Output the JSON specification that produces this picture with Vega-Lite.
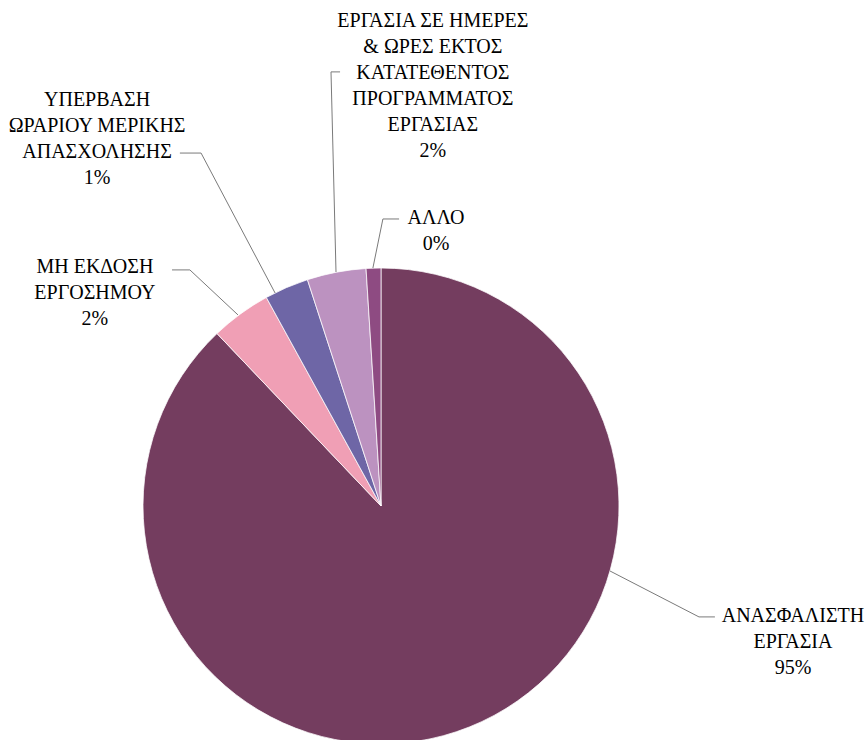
{
  "$schema": "https://vega.github.io/schema/vega-lite/v6.json",
  "width": 866,
  "height": 740,
  "padding": 0,
  "autosize": {"type": "none"},
  "background": "white",
  "config": {"view": {"stroke": null}},
  "datasets": {
    "slices": [
      {"rank": 1, "category": "ΑΝΑΣΦΑΛΙΣΤΗ ΕΡΓΑΣΙΑ", "value": 87.9},
      {"rank": 2, "category": "ΜΗ ΕΚΔΟΣΗ ΕΡΓΟΣΗΜΟΥ", "value": 4.1},
      {"rank": 3, "category": "ΥΠΕΡΒΑΣΗ ΩΡΑΡΙΟΥ ΜΕΡΙΚΗΣ ΑΠΑΣΧΟΛΗΣΗΣ", "value": 3.0},
      {"rank": 4, "category": "ΕΡΓΑΣΙΑ ΣΕ ΗΜΕΡΕΣ & ΩΡΕΣ ΕΚΤΟΣ ΚΑΤΑΤΕΘΕΝΤΟΣ ΠΡΟΓΡΑΜΜΑΤΟΣ ΕΡΓΑΣΙΑΣ", "value": 4.0},
      {"rank": 5, "category": "ΑΛΛΟ", "value": 1.0}
    ],
    "labels": [
      {"category": "ΑΝΑΣΦΑΛΙΣΤΗ ΕΡΓΑΣΙΑ", "text": "ΑΝΑΣΦΑΛΙΣΤΗ\nΕΡΓΑΣΙΑ\n95%", "lx": 173.1, "ly": -46.2},
      {"category": "ΜΗ ΕΚΔΟΣΗ ΕΡΓΟΣΗΜΟΥ", "text": "ΜΗ ΕΚΔΟΣΗ\nΕΡΓΟΣΗΜΟΥ\n2%", "lx": -120.2, "ly": 100.4},
      {"category": "ΥΠΕΡΒΑΣΗ ΩΡΑΡΙΟΥ ΜΕΡΙΚΗΣ ΑΠΑΣΧΟΛΗΣΗΣ", "text": "ΥΠΕΡΒΑΣΗ\nΩΡΑΡΙΟΥ ΜΕΡΙΚΗΣ\nΑΠΑΣΧΟΛΗΣΗΣ\n1%", "lx": -119.3, "ly": 170.6},
      {"category": "ΕΡΓΑΣΙΑ ΣΕ ΗΜΕΡΕΣ & ΩΡΕΣ ΕΚΤΟΣ ΚΑΤΑΤΕΘΕΝΤΟΣ ΠΡΟΓΡΑΜΜΑΤΟΣ ΕΡΓΑΣΙΑΣ", "text": "ΕΡΓΑΣΙΑ ΣΕ ΗΜΕΡΕΣ\n& ΩΡΕΣ ΕΚΤΟΣ\nΚΑΤΑΤΕΘΕΝΤΟΣ\nΠΡΟΓΡΑΜΜΑΤΟΣ\nΕΡΓΑΣΙΑΣ\n2%", "lx": 21.8, "ly": 203.8},
      {"category": "ΑΛΛΟ", "text": "ΑΛΛΟ\n0%", "lx": 23.1, "ly": 121.0}
    ],
    "leaders": [
      {"category": "ΑΝΑΣΦΑΛΙΣΤΗ ΕΡΓΑΣΙΑ", "seq": 1, "lx": 96.2, "ly": -27.3},
      {"category": "ΑΝΑΣΦΑΛΙΣΤΗ ΕΡΓΑΣΙΑ", "seq": 2, "lx": 133.6, "ly": -46.6},
      {"category": "ΑΝΑΣΦΑΛΙΣΤΗ ΕΡΓΑΣΙΑ", "seq": 3, "lx": 140.3, "ly": -46.6},
      {"category": "ΜΗ ΕΚΔΟΣΗ ΕΡΓΟΣΗΜΟΥ", "seq": 1, "lx": -60.1, "ly": 80.3},
      {"category": "ΜΗ ΕΚΔΟΣΗ ΕΡΓΟΣΗΜΟΥ", "seq": 2, "lx": -80.3, "ly": 99.2},
      {"category": "ΜΗ ΕΚΔΟΣΗ ΕΡΓΟΣΗΜΟΥ", "seq": 3, "lx": -87.8, "ly": 99.2},
      {"category": "ΥΠΕΡΒΑΣΗ ΩΡΑΡΙΟΥ ΜΕΡΙΚΗΣ ΑΠΑΣΧΟΛΗΣΗΣ", "seq": 1, "lx": -44.5, "ly": 89.5},
      {"category": "ΥΠΕΡΒΑΣΗ ΩΡΑΡΙΟΥ ΜΕΡΙΚΗΣ ΑΠΑΣΧΟΛΗΣΗΣ", "seq": 2, "lx": -75.6, "ly": 148.3},
      {"category": "ΥΠΕΡΒΑΣΗ ΩΡΑΡΙΟΥ ΜΕΡΙΚΗΣ ΑΠΑΣΧΟΛΗΣΗΣ", "seq": 3, "lx": -84.5, "ly": 148.3},
      {"category": "ΕΡΓΑΣΙΑ ΣΕ ΗΜΕΡΕΣ & ΩΡΕΣ ΕΚΤΟΣ ΚΑΤΑΤΕΘΕΝΤΟΣ ΠΡΟΓΡΑΜΜΑΤΟΣ ΕΡΓΑΣΙΑΣ", "seq": 1, "lx": -18.9, "ly": 98.3},
      {"category": "ΕΡΓΑΣΙΑ ΣΕ ΗΜΕΡΕΣ & ΩΡΕΣ ΕΚΤΟΣ ΚΑΤΑΤΕΘΕΝΤΟΣ ΠΡΟΓΡΑΜΜΑΤΟΣ ΕΡΓΑΣΙΑΣ", "seq": 2, "lx": -21.0, "ly": 182.4},
      {"category": "ΕΡΓΑΣΙΑ ΣΕ ΗΜΕΡΕΣ & ΩΡΕΣ ΕΚΤΟΣ ΚΑΤΑΤΕΘΕΝΤΟΣ ΠΡΟΓΡΑΜΜΑΤΟΣ ΕΡΓΑΣΙΑΣ", "seq": 3, "lx": -17.2, "ly": 182.4},
      {"category": "ΑΛΛΟ", "seq": 1, "lx": -3.4, "ly": 100.0},
      {"category": "ΑΛΛΟ", "seq": 2, "lx": 0.8, "ly": 120.6},
      {"category": "ΑΛΛΟ", "seq": 3, "lx": 7.6, "ly": 120.6}
    ]
  },
  "layer": [
    {
      "data": {"name": "slices"},
      "mark": {"type": "arc", "outerRadius": 238, "stroke": "#ffffff", "strokeWidth": 0.75},
      "encoding": {
        "x": {"datum": 0, "type": "quantitative", "scale": {"domain": [-160.08, 203.78], "nice": false, "zero": false}, "axis": null},
        "y": {"datum": 0, "type": "quantitative", "scale": {"domain": [-98.32, 212.61], "nice": false, "zero": false}, "axis": null},
        "theta": {"field": "value", "type": "quantitative", "stack": true},
        "order": {"field": "rank", "type": "quantitative", "sort": "ascending"},
        "color": {
          "field": "category",
          "type": "nominal",
          "legend": null,
          "scale": {
            "domain": ["ΑΝΑΣΦΑΛΙΣΤΗ ΕΡΓΑΣΙΑ", "ΜΗ ΕΚΔΟΣΗ ΕΡΓΟΣΗΜΟΥ", "ΥΠΕΡΒΑΣΗ ΩΡΑΡΙΟΥ ΜΕΡΙΚΗΣ ΑΠΑΣΧΟΛΗΣΗΣ", "ΕΡΓΑΣΙΑ ΣΕ ΗΜΕΡΕΣ & ΩΡΕΣ ΕΚΤΟΣ ΚΑΤΑΤΕΘΕΝΤΟΣ ΠΡΟΓΡΑΜΜΑΤΟΣ ΕΡΓΑΣΙΑΣ", "ΑΛΛΟ"],
            "range": ["#743D5F", "#F09FB5", "#6E66A6", "#BC92C0", "#8E4B82"]
          }
        }
      }
    },
    {
      "data": {"name": "leaders"},
      "mark": {"type": "line", "stroke": "#7a7a7a", "strokeWidth": 1},
      "encoding": {
        "x": {"field": "lx", "type": "quantitative", "axis": null},
        "y": {"field": "ly", "type": "quantitative", "axis": null},
        "detail": {"field": "category"},
        "order": {"field": "seq", "type": "quantitative"}
      }
    },
    {
      "data": {"name": "labels"},
      "mark": {"type": "text", "font": "Liberation Serif", "fontSize": 20, "lineHeight": 26, "lineBreak": "\n", "align": "center", "baseline": "middle", "color": "#000000"},
      "encoding": {
        "x": {"field": "lx", "type": "quantitative", "axis": null},
        "y": {"field": "ly", "type": "quantitative", "axis": null},
        "text": {"field": "text"}
      }
    }
  ]
}
